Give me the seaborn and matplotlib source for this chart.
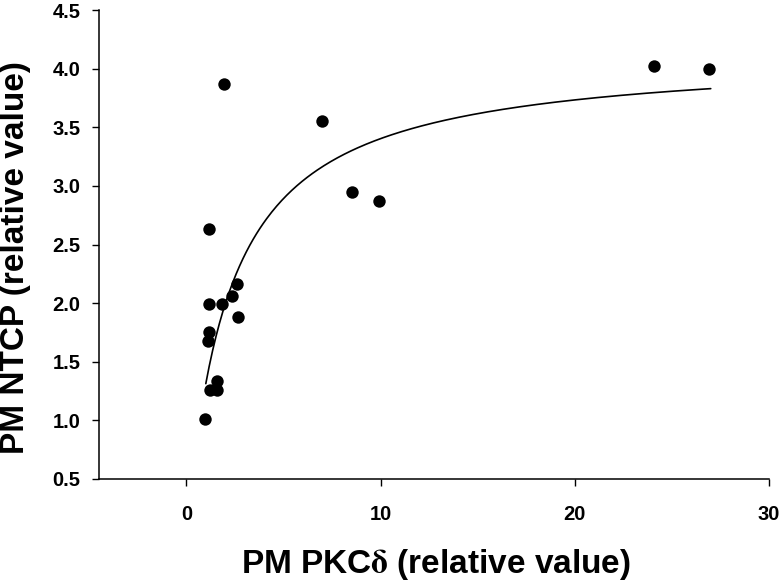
import numpy as np
import pandas as pd
import matplotlib
matplotlib.use("Agg")
import matplotlib.pyplot as plt
import seaborn as sns

pkc_delta = [0.98, 1.20, 1.58, 1.58, 1.12, 1.15, 1.18, 1.85, 2.35, 2.60,
             2.67, 1.17, 1.95, 6.98, 8.52, 9.94, 24.1, 26.9]
ntcp = [1.01, 1.26, 1.26, 1.34, 1.68, 1.75, 1.99, 1.99, 2.06, 2.16,
        1.88, 2.63, 3.87, 3.55, 2.95, 2.87, 4.02, 4.00]

# Hyperbolic fit parameters (y = vmax * x / (k + x))
fit_vmax = 4.134
fit_k = 2.148
fit_range = (1.0, 27.0)

x_ticks = [0, 10, 20, 30]
y_ticks = [0.5, 1.0, 1.5, 2.0, 2.5, 3.0, 3.5, 4.0, 4.5]

sns.set_theme(style="ticks")
plt.rcParams["font.family"] = ["Liberation Sans", "DejaVu Sans"]
plt.rcParams["font.weight"] = "bold"
plt.rcParams["mathtext.fontset"] = "stix"

pts = pd.DataFrame({"x": pkc_delta, "y": ntcp})
xf = np.linspace(fit_range[0], fit_range[1], 300)
fit = pd.DataFrame({"x": xf, "y": fit_vmax * xf / (fit_k + xf)})

fig = plt.figure(figsize=(7.83, 5.81), dpi=100)
ax = fig.add_axes([99 / 783, 1 - 479 / 581, (769 - 99) / 783, (479 - 10) / 581])

sns.lineplot(data=fit, x="x", y="y", ax=ax, color="black", linewidth=1.2)
sns.scatterplot(data=pts, x="x", y="y", ax=ax, color="black", s=80,
                edgecolor="black", linewidth=0, zorder=3)

ax.set_xlim(-4.5, 30)
ax.set_ylim(0.5, 4.5)
ax.set_xticks(x_ticks)
ax.set_yticks(y_ticks)
ax.set_yticklabels([f"{v:.1f}" for v in y_ticks])
ax.set_xticklabels([str(v) for v in x_ticks])

for s in ["top", "right"]:
    ax.spines[s].set_visible(False)
for s in ["left", "bottom"]:
    ax.spines[s].set_linewidth(1.1)
    ax.spines[s].set_color("black")

ax.tick_params(axis="both", direction="out", length=5, width=1.0, color="black",
               labelsize=14.5, labelcolor="black")
ax.tick_params(axis="y", pad=8.5)
ax.tick_params(axis="x", pad=13.5)
for lab in ax.get_xticklabels() + ax.get_yticklabels():
    lab.set_fontweight("bold")

ax.set_xlabel(r"PM PKC$\mathrm{\delta}$ (relative value)", fontsize=24,
              fontweight="bold", color="black")
ax.set_ylabel("PM NTCP (relative value)", fontsize=24, fontweight="bold",
              color="black")
ax.xaxis.set_label_coords(0.503, (479 - 547) / 469)
ax.yaxis.set_label_coords((31 - 99) / 670, (479 - 257.5) / 469)
ax.grid(False)

fig.savefig("out.png", dpi=100, facecolor="white")
